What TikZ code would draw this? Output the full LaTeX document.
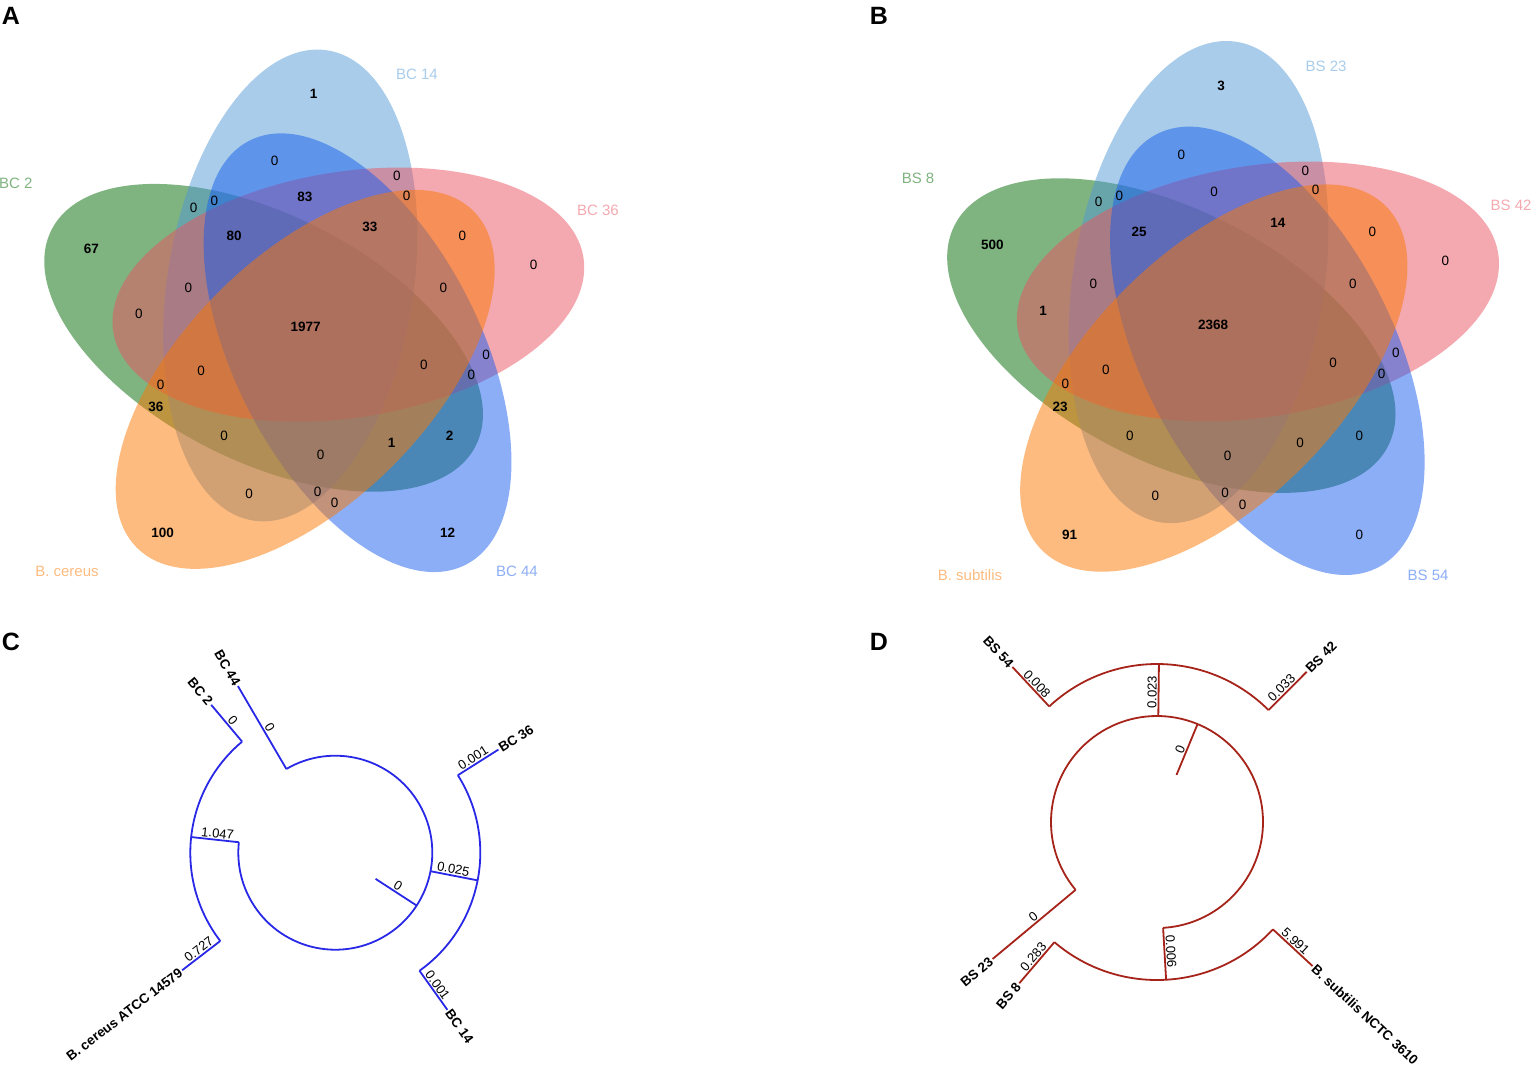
\documentclass[tikz,border=0pt]{standalone}
\usepackage{fontspec}
\setmainfont{Liberation Sans}

\definecolor{vgreen}{RGB}{0,103,0}
\definecolor{vlblue}{RGB}{81,153,213}
\definecolor{vpink}{RGB}{233,83,97}
\definecolor{vblue}{RGB}{25,93,237}
\definecolor{vorange}{RGB}{251,119,1}
\definecolor{treeblue}{RGB}{40,40,230}
\definecolor{treered}{RGB}{165,35,25}

\tikzset{
  vzero/.style={font=\fontsize{13.5}{13.5}\selectfont, inner sep=0pt},
  vcount/.style={inner sep=0pt, font=\fontsize{13.5}{13.5}\selectfont\bfseries},
  setname/.style={font=\fontsize{15}{15}\selectfont, inner sep=0pt},
  panel/.style={font=\fontsize{25}{25}\selectfont\bfseries, inner sep=0pt},
  cbranch/.style={draw=treeblue, line width=1.8pt},
  dbranch/.style={draw=treered, line width=1.8pt},
  tiplab/.style={font=\fontsize{13.5}{13.5}\selectfont\bfseries, inner sep=1.5pt},
  edgelab/.style={font=\fontsize{13}{13}\selectfont, inner sep=1pt, pos=0.46, sloped, above}
}

% five overlapping ellipses, drawn round the current origin
\newcommand{\fiveellipses}{%
  \foreach \col/\ang in {vgreen/153, vlblue/81, vpink/9, vblue/297, vorange/225}
    \fill[\col, fill opacity=0.5, rotate=\ang] (36:50pt) ellipse [x radius=238pt, y radius=123pt];
}

\begin{document}
\begin{tikzpicture}[x=1pt, y=-1pt]
  \useasboundingbox (0,0) rectangle (1536,1074);

  % panel letters
  \node[panel] (pa) at (11,16) {A};
  \node[panel] (pb) at (879,16) {B};
  \node[panel] (pc) at (11,642) {C};
  \node[panel] (pd) at (879,642) {D};

  % Venn A
  \begin{scope}[shift={(313,330)}]
    \fiveellipses
  \end{scope}
  \node[setname, text=vlblue!50] (a14) at (417,74) {BC 14};
  \node[setname, text=vgreen!50, anchor=west] (a2) at (-1,183) {BC 2};
  \node[setname, text=vpink!50] (a36) at (598,210) {BC 36};
  \node[setname, text=vblue!50] (a44) at (517,571) {BC 44};
  \node[setname, text=vorange!50] (acer) at (67,571) {B. cereus};
  \foreach \x/\y [count=\i] in {274.6/160.9, 396.8/176.2, 406.7/195.4, 193.7/207.7, 214.3/200.4,
      462.3/235.6, 533.7/264.4, 188.5/287.4, 443.3/287.4, 138.9/313.4, 486.1/354.4, 423.8/365.1,
      201.2/370.9, 471.4/374.7, 160.7/385.1, 224.2/435.6, 320.6/454.8, 317.5/491.6, 249.2/494.3,
      334.5/502.7}
    \node[vzero] (az\i) at (\x,\y) {0};
  \foreach \x/\y/\n [count=\i] in {313.5/93.9/1, 304.8/197.3/83, 369.8/226.8/33, 234.1/235.6/80,
      91.3/249/67, 305.6/326.4/1977, 156/407.3/36, 449.6/435.6/2, 391.7/442.5/1, 162.7/532.6/100,
      447.6/532.6/12}
    \node[vcount] (ac\i) at (\x,\y) {\n};

  % Venn B
  \begin{scope}[shift={(1221.8,327.6)}, scale=1.022]
    \fiveellipses
  \end{scope}
  \node[setname, text=vlblue!50] (b23) at (1326,66) {BS 23};
  \node[setname, text=vgreen!50] (b8) at (918,178) {BS 8};
  \node[setname, text=vpink!50] (b42) at (1511,205) {BS 42};
  \node[setname, text=vblue!50] (b54) at (1428,575) {BS 54};
  \node[setname, text=vorange!50] (bsub) at (970,575) {B. subtilis};
  \foreach \x/\y [count=\i] in {1181.3/155.2, 1305.4/171.2, 1315.5/189.6, 1214.2/192.3,
      1098.6/202.3, 1119.3/196.1, 1372.3/231.8, 1445.3/260.5, 1093.4/284.3, 1352.8/284.3,
      1395.8/352.5, 1333/363.2, 1105.9/369.7, 1381.6/373.5, 1065.4/384.3, 1129.9/435.6,
      1359.3/435.6, 1300.1/443.3, 1227.6/455.9, 1225.1/493.1, 1155.4/495.4, 1242.6/505,
      1359.3/535.2}
    \node[vzero] (bz\i) at (\x,\y) {0};
  \foreach \x/\y/\n [count=\i] in {1221.1/86.2/3, 1277.8/223/14, 1139.2/231.8/25, 992.4/245.2/500,
      1043.1/311.1/1, 1213/324.9/2368, 1060.1/406.9/23, 1069.5/535.2/91}
    \node[vcount] (bc\i) at (\x,\y) {\n};

  % tree C
  \begin{scope}[shift={(335.3,852.7)}]
    \coordinate (croot) at (-33:48pt);
    \coordinate (cin) at (-33:97pt);
    \coordinate (c44a) at (120.3:97pt);
    \coordinate (c44) at (120.3:193pt);
    \coordinate (cla) at (173.8:97pt);
    \coordinate (clb) at (173.8:145pt);
    \coordinate (c2a) at (130:145pt);
    \coordinate (c2) at (130:193pt);
    \coordinate (ccea) at (217.5:145pt);
    \coordinate (cce) at (217.5:193pt);
    \coordinate (cra) at (-11:97pt);
    \coordinate (crb) at (-11:145pt);
    \coordinate (c36a) at (32.3:145pt);
    \coordinate (c36) at (32.3:193pt);
    \coordinate (c14a) at (-54.5:145pt);
    \coordinate (c14) at (-54.5:193pt);

    \draw[cbranch] (c44a) arc[start angle=120.3, end angle=-186.2, radius=97pt];
    \draw[cbranch] (c2a) arc[start angle=130, end angle=217.5, radius=145pt];
    \draw[cbranch] (c36a) arc[start angle=32.3, end angle=-54.5, radius=145pt];
    \draw[cbranch] (croot) -- node[edgelab] {0} (cin);
    \draw[cbranch] (c44a) -- node[edgelab] {0} (c44);
    \draw[cbranch] (cla) -- node[edgelab] {1.047} (clb);
    \draw[cbranch] (c2a) -- node[edgelab] {0} (c2);
    \draw[cbranch] (ccea) -- node[edgelab] {0.727} (cce);
    \draw[cbranch] (cra) -- node[edgelab] {0.025} (crb);
    \draw[cbranch] (c36a) -- node[edgelab] {0.001} (c36);
    \draw[cbranch] (c14a) -- node[edgelab] {0.001} (c14);

    \node[tiplab, anchor=east, rotate=-59.7] (t44) at (c44) {BC 44};
    \node[tiplab, anchor=east, rotate=-50] (t2) at (c2) {BC 2};
    \node[tiplab, anchor=east, rotate=37.5] (tce) at (cce) {B. cereus ATCC 14579};
    \node[tiplab, anchor=west, rotate=32.3] (t36) at (c36) {BC 36};
    \node[tiplab, anchor=west, rotate=-54.5] (t14) at (c14) {BC 14};
  \end{scope}

  % tree D
  \begin{scope}[shift={(1157,822)}]
    \coordinate (droot) at (67.5:51pt);
    \coordinate (din) at (67.5:106pt);
    \coordinate (dta) at (89.3:106pt);
    \coordinate (dtb) at (89.3:158pt);
    \coordinate (d54a) at (133:158pt);
    \coordinate (d54) at (133:212pt);
    \coordinate (d42a) at (45.1:158pt);
    \coordinate (d42) at (45.1:212pt);
    \coordinate (d23a) at (219.8:106pt);
    \coordinate (d23) at (219.8:214pt);
    \coordinate (dba) at (-86.7:106pt);
    \coordinate (dbb) at (-86.7:158pt);
    \coordinate (d8a) at (229.5:158pt);
    \coordinate (d8) at (229.5:212pt);
    \coordinate (dsua) at (-42.8:158pt);
    \coordinate (dsu) at (-42.8:212pt);

    \draw[dbranch] (d23a) arc[start angle=219.8, end angle=-86.7, radius=106pt];
    \draw[dbranch] (d42a) arc[start angle=45.1, end angle=133, radius=158pt];
    \draw[dbranch] (d8a) arc[start angle=229.5, end angle=317.2, radius=158pt];
    \draw[dbranch] (droot) -- node[edgelab] {0} (din);
    \draw[dbranch] (dta) -- node[edgelab] {0.023} (dtb);
    \draw[dbranch] (d54a) -- node[edgelab] {0.008} (d54);
    \draw[dbranch] (d42a) -- node[edgelab] {0.033} (d42);
    \draw[dbranch] (d23a) -- node[edgelab] {0} (d23);
    \draw[dbranch] (dba) -- node[edgelab] {0.006} (dbb);
    \draw[dbranch] (d8a) -- node[edgelab] {0.283} (d8);
    \draw[dbranch] (dsua) -- node[edgelab] {5.991} (dsu);

    \node[tiplab, anchor=east, rotate=-47] (u54) at (d54) {BS 54};
    \node[tiplab, anchor=west, rotate=45.1] (u42) at (d42) {BS 42};
    \node[tiplab, anchor=east, rotate=39.8] (u23) at (d23) {BS 23};
    \node[tiplab, anchor=east, rotate=49.5] (u8) at (d8) {BS 8};
    \node[tiplab, anchor=west, rotate=-42.8] (usu) at (dsu) {B. subtilis NCTC 3610};
  \end{scope}
\end{tikzpicture}
\end{document}
